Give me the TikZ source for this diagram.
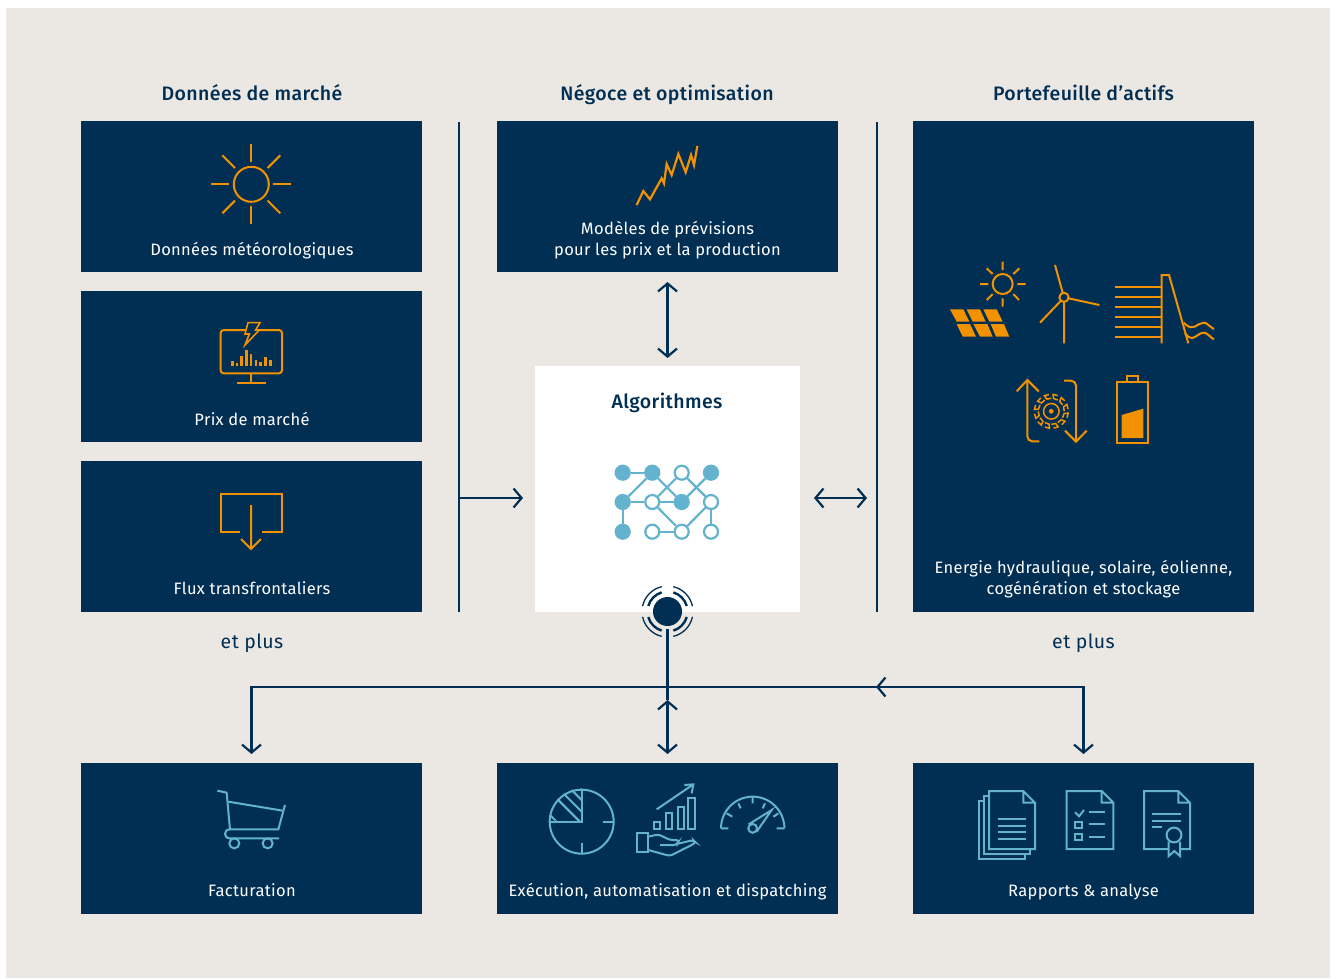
\documentclass[tikz,border=0pt]{standalone}
\usepackage{fontspec}
\setmainfont{Fira Sans}[LetterSpace=2.0]
\newfontfamily\headfont{Fira Sans Medium}[LetterSpace=2.0]
\usetikzlibrary{arrows.meta,calc}
\definecolor{navy}{HTML}{012F53}
\definecolor{bgc}{HTML}{EBE7E3}
\definecolor{orng}{HTML}{F39200}
\definecolor{lblue}{HTML}{63B3CE}
\tikzset{
  x=1pt,y=-1pt,
  box/.style={fill=navy,minimum width=341pt,minimum height=151pt,inner sep=0pt,outer sep=0pt,anchor=north west},
  label/.style={text=white,font=\fontsize{16.5}{21}\selectfont,align=center,inner sep=0pt,text depth=0pt},
  head/.style={text=navy,font=\fontsize{19.5}{24}\selectfont\headfont,inner sep=0pt,anchor=base},
  plain/.style={text=navy,font=\fontsize{19.5}{24}\selectfont,inner sep=0pt,anchor=base},
  conn/.style={draw=navy,line width=2.2pt,>={Straight Barb[length=8pt,width=19pt]}},
  oic/.style={draw=orng,line width=2pt,line join=miter},
  bic/.style={draw=lblue,line width=2pt,line join=miter},
  zoom/.style={x=0.33333pt,y=-0.33333pt},
  nf/.style={circle,fill=lblue,draw=lblue,line width=2.2pt,minimum size=14pt,inner sep=0pt},
  no/.style={circle,fill=white,draw=lblue,line width=2.2pt,minimum size=14pt,inner sep=0pt},
}
\begin{document}
\begin{tikzpicture}
\useasboundingbox (0,0) rectangle (1338,978);
\fill[bgc] (6,8) rectangle (1330,978);
% boxes
\node[box] (meteo) at (81,121) {};
\node[box] (prix) at (81,291) {};
\node[box] (flux) at (81,461) {};
\node[box] (mod) at (497,121) {};
\node[box,minimum height=491pt] (port) at (913,121) {};
\node[box,fill=white,minimum width=265pt,minimum height=246pt] (algo) at (535,366) {};
\node[box] (fact) at (81,763) {};
\node[box] (exec) at (497,763) {};
\node[box] (rapp) at (913,763) {};
% texts
\node[head] (h1) at (252,100) {Données de marché};
\node[head] (h2) at (667,100) {Négoce et optimisation};
\node[head] (h3) at (1083.5,100) {Portefeuille d’actifs};
\node[head] (h4) at (667,408) {Algorithmes};
\node[plain] (p1) at (252,648) {et plus};
\node[plain] (p2) at (1083.5,648) {et plus};
\node[label] (t1) at (252,249) {Données météorologiques};
\node[label] (t2) at (252,419) {Prix de marché};
\node[label] (t3) at (252,588) {Flux transfrontaliers};
\node[label] (t4) at (667.5,238.5) {Modèles de prévisions\\pour les prix et la production};
\node[label] (t5) at (1083.5,577.5) {Energie hydraulique, solaire, éolienne,\\cogénération et stockage};
\node[label] (t6) at (252,890) {Facturation};
\node[label] (t7) at (667.5,890) {Exécution, automatisation et dispatching};
\node[label] (t8) at (1083.5,890) {Rapports \& analyse};
% separators and connectors
\coordinate (sepLt) at (459,122); \coordinate (sepLb) at (459,612);
\coordinate (sepRt) at (877,122); \coordinate (sepRb) at (877,612);
\coordinate (lvl) at (0,498);
\coordinate (bus) at (667.5,687);
\coordinate (chev) at (876,687);
\coordinate (upt) at (667.5,700);
\draw[conn] (sepLt) -- (sepLb);
\draw[conn] (sepRt) -- (sepRb);
\draw[conn,<->,shorten <=10pt,shorten >=8pt] (mod.south) -- (algo.north);
\draw[conn,->,shorten >=12pt] (sepLt |- lvl) -- (algo.west |- lvl);
\draw[conn,<->,shorten <=14pt,shorten >=10pt] (algo.east |- lvl) -- (sepRt |- lvl);
\node[circle,fill=navy,minimum size=29pt,inner sep=0pt] (sig) at (667.5,611.5) {};
\foreach \a/\b in {107/164,16/73,196/253,287/344}{
  \draw[navy,line width=2.4pt] ($(sig.center)+(\a:20pt)$) arc[start angle=\a,end angle=\b,radius=20pt];
}
\foreach \a/\b in {103/168,12/77,192/257,283/348}{
  \draw[navy,line width=1.3pt] ($(sig.center)+(\a:25.5pt)$) arc[start angle=\a,end angle=\b,radius=25.5pt];
}
\draw[conn,shorten <=3pt] (sig.south) -- (bus);
\draw[conn,<->,shorten >=9pt] (upt) -- (exec.north);
\draw[conn] (bus) -- (upt);
\draw[conn,->,shorten >=9pt] (bus) -| (fact.north);
\draw[conn,->,shorten >=9pt] (bus) -| (rapp.north);
\draw[conn,<-] (chev) -- (bus -| rapp.north);
% network
\begin{scope}
\foreach \n/\x/\y/\s in {a/622.7/472.7/nf,b/652.3/472.7/nf,c/681.7/472.7/no,d/711/472.7/nf,
  e/622.7/502/nf,f/652.3/502/no,g/681.7/502/nf,h/711/502/no,
  i/622.7/531.7/nf,j/652.3/531.7/no,k/681.7/531.7/no,l/711/531.7/no}{
  \node[\s] (\n) at (\x,\y) {};
}
\foreach \p/\q in {a/b,b/e,b/g,c/f,c/h,d/g,e/f,f/g,e/i,f/k,j/k,k/h,h/l}{
  \draw[lblue,line width=2.2pt] (\p) -- (\q);
}
\end{scope}
% sun
\begin{scope}[shift={(251.3,184.3)}]
\draw[oic] (0,0) circle[radius=17.5pt];
\foreach \a in {0,90,180,270}{\draw[oic] (\a:22pt) -- (\a:40pt);}
\foreach \a in {45,135,225,315}{\draw[oic] (\a:23pt) -- (\a:41pt);}
\end{scope}
% monitor
\begin{scope}[shift={(190,130)},zoom]
\draw[oic,rounded corners=3pt] (92,600) rectangle (276,730);
\draw[oic] (184,730) -- (184,760) (140,760) -- (228,760);
\filldraw[draw=orng,fill=navy,line width=1.6pt,line join=miter] (174,578) -- (210,578) -- (197,600) -- (208,600) -- (165,645) -- (178,612) -- (165,612) -- cycle;
\foreach \x/\y in {127/692,141/698,155/678,169/661,183/672,198/690,212/697,226/680,241/690}{
  \draw[orng,line width=2.6pt] (\x,707) -- (\x,\y);
}
\end{scope}
% flux icon
\draw[oic] (240,532) -- (221,532) -- (221,494) -- (282,494) -- (282,532) -- (262,532);
\draw[oic] (251,505) -- (251,549) (241,539) -- (251,549) -- (261,539);
% zigzag
\begin{scope}[shift={(620,140)},zoom]
\draw[oic,line width=2.2pt] (50,195) -- (70,153) -- (90,178) -- (125,115) -- (132,130) -- (140,72) -- (155,105) -- (175,42) -- (197,97) -- (213,45) -- (222,75) -- (232,18);
\end{scope}
% asset icons
\begin{scope}[shift={(930,250)},zoom]
\draw[oic] (218,102) circle[radius=10pt];
\draw[oic] (218,35) -- (218,60) (218,145) -- (218,170) (150,102) -- (175,102) (262,102) -- (287,102)
  (170,55) -- (188,72) (268,55) -- (250,72) (170,150) -- (188,132) (267,150) -- (250,132);
\fill[orng] (60,178) -- (100,178) -- (118,215) -- (80,215) -- cycle
 (110,178) -- (150,178) -- (167,215) -- (128,215) -- cycle
 (160,178) -- (200,178) -- (218,215) -- (178,215) -- cycle
 (80,222) -- (120,222) -- (138,260) -- (98,260) -- cycle
 (130,222) -- (172,222) -- (188,260) -- (150,260) -- cycle
 (182,222) -- (222,222) -- (238,260) -- (198,260) -- cycle;
\draw[oic] (402,142) circle[radius=4.6pt];
\draw[oic] (398,128) -- (375,45) (416,145) -- (508,165) (392,153) -- (330,218) (402,157) -- (402,280);
\foreach \y in {112,142,172,202,232,262}{\draw[oic] (555,\y) -- (695,\y);}
\draw[oic] (695,280) -- (695,75) -- (717,75) -- (775,280);
\draw[oic] (762,218) .. controls (790,250) and (800,218) .. (822,218) .. controls (832,218) and (840,232) .. (852,237);
\draw[oic] (765,250) .. controls (790,282) and (800,248) .. (822,248) .. controls (832,248) and (840,262) .. (852,268);
% cycle
\draw[oic,rounded corners=5pt] (328,574) -- (292,574) -- (292,390);
\draw[oic] (260,424) -- (292,390) -- (326,424);
\draw[oic,rounded corners=5pt] (402,392) -- (438,392) -- (438,575);
\draw[oic] (405,542) -- (438,575) -- (470,542);
\end{scope}
% turbine gear
\begin{scope}[shift={(1051.3,411.3)}]
\fill[orng] (0,0) circle[radius=2.4pt];
\draw[oic,line width=1.5pt] (0,0) circle[radius=7.8pt];
\foreach \a in {0,30,...,330}{
  \draw[orng,line width=1.5pt] (\a:13pt) arc[start angle=\a,end angle=\a+20,radius=13pt] -- (\a+24:17pt) arc[start angle=\a+24,end angle=\a+8,radius=17pt];
}
\end{scope}
\begin{scope}[shift={(930,250)},zoom]
\draw[oic] (561,395) rectangle (654,578);
\draw[oic] (591,395) -- (591,377) -- (624,377) -- (624,395);
\fill[orng] (575,495) -- (640,476) -- (640,564) -- (575,564) -- cycle;
\end{scope}
% cart
\begin{scope}[shift={(200,780)},zoom]
\draw[bic] (52,32) -- (80,38) -- (90,148) -- (235,148) -- (255,75);
\draw[bic] (85,65) -- (248,92);
\draw[bic] (90,148) .. controls (70,148) and (70,175) .. (90,175) -- (237,175);
\draw[bic] (103,190) circle[radius=5pt];
\draw[bic] (203,190) circle[radius=5pt];
\end{scope}
% exec icons
\begin{scope}[shift={(530,775)},zoom]
\begin{scope}
\clip (155,140) -- (155,40) arc[start angle=90,end angle=180,radius=32pt] -- cycle;
\foreach \d in {0,35,70,105,140}{
  \draw[bic] (40+\d,30) ++(0,0) -- ++(130,130);
  \draw[bic] (40-\d,30+\d) -- ++(130,130);
}
\end{scope}
\draw[bic] (155,140) circle[radius=32pt];
\draw[bic] (155,45) -- (155,140) -- (60,140) (220,140) -- (250,140) (155,205) -- (155,235);
\draw[bic] (372,140) rectangle (390,163) (408,115) rectangle (427,163) (443,95) rectangle (462,163) (475,70) rectangle (495,163);
\draw[bic] (380,103) -- (490,28) (463,30) -- (490,28) -- (485,55);
\draw[bic] (320,175) rectangle (355,232);
\draw[bic,rounded corners=3pt] (355,185) -- (385,178) -- (420,195) -- (448,195) -- (440,210) -- (390,210);
\draw[bic,rounded corners=3pt] (440,207) -- (490,195) -- (498,203) -- (420,243) -- (355,225);
\draw[bic] (573,160) arc[start angle=180,end angle=0,radius=31.7pt];
\draw[bic] (573,160) -- (595,160) (740,160) -- (763,160)
 (590,115) -- (607,125) (625,85) -- (632,100) (668,65) -- (668,85) (705,85) -- (698,100) (745,115) -- (730,125);
\draw[bic] (668,160) circle[radius=4.4pt];
\draw[bic] (656,148) -- (725,105) -- (680,170);
\end{scope}
% report icons
\begin{scope}[shift={(960,775)},zoom]
\draw[bic] (87,48) -- (190,48) -- (225,83) -- (225,222) -- (87,222) -- cycle (190,48) -- (190,83) -- (225,83);
\draw[bic] (87,62) -- (72,62) -- (72,237) -- (210,237) -- (210,222);
\draw[bic] (72,77) -- (57,77) -- (57,252) -- (195,252) -- (195,237);
\foreach \y in {132,152,172,192}{\draw[bic] (113,\y) -- (197,\y);}
\draw[bic] (320,48) -- (425,48) -- (460,83) -- (460,222) -- (320,222) -- cycle (425,48) -- (425,83) -- (460,83);
\draw[bic] (345,112) -- (357,124) -- (372,105);
\draw[bic] (345,140) rectangle (367,160) (345,176) rectangle (367,196);
\foreach \y in {112,148,185}{\draw[bic] (388,\y) -- (435,\y);}
\draw[bic] (624,222) -- (552,222) -- (552,48) -- (655,48) -- (690,83) -- (690,222) -- (662,222) (655,48) -- (655,83) -- (690,83);
\draw[bic] (575,118) -- (662,118) (575,137) -- (662,137) (575,156) -- (607,156);
\draw[bic] (642,180) circle[radius=7.4pt];
\draw[bic] (626,200) -- (626,243) -- (643,228) -- (660,243) -- (660,200);
\end{scope}
\end{tikzpicture}
\end{document}
